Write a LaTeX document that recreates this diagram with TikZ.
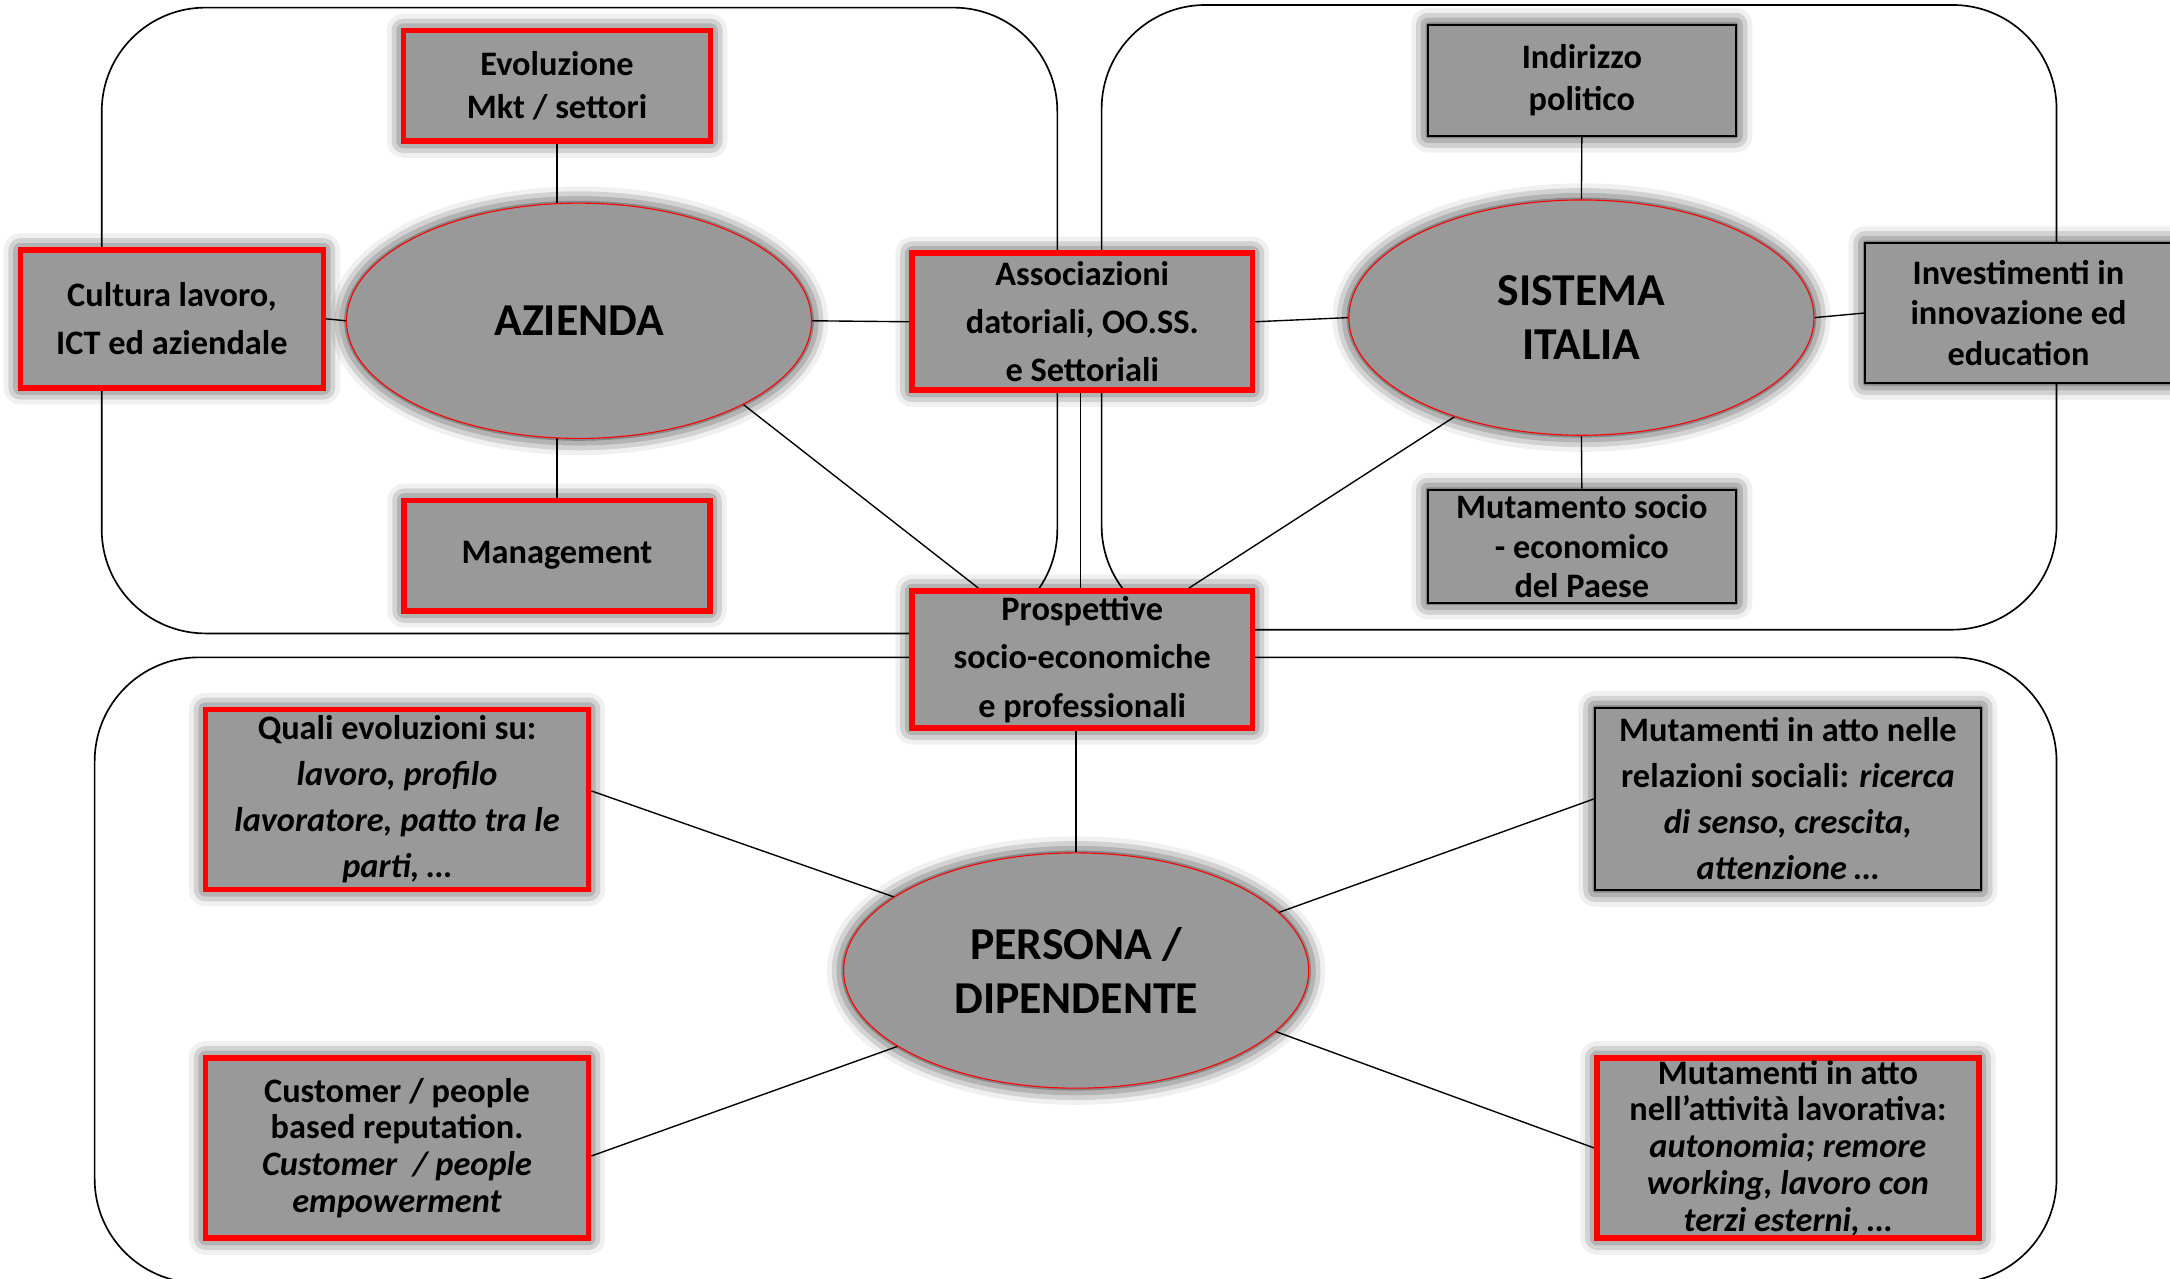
\documentclass[tikz,border=0pt]{standalone}
\usepackage{fontspec}
\setmainfont{Carlito}
\usetikzlibrary{shapes.geometric,shadows.blur}
\definecolor{boxgray}{RGB}{153,153,153}
\definecolor{boxred}{RGB}{255,0,0}
\pgfdeclarelayer{bg}
\pgfsetlayers{bg,main}
\begin{document}
\begin{tikzpicture}[x=0.5pt,y=-0.5pt,
  glow/.style={blur shadow={shadow xshift=0pt,shadow yshift=0pt,shadow blur radius=6pt,shadow opacity=95}},
  redbox/.style={rectangle,draw=boxred,line width=2pt,fill=boxgray,glow,align=center,inner sep=0pt},
  blackbox/.style={rectangle,draw=black,line width=0.8pt,fill=boxgray,glow,align=center,inner sep=0pt},
  oval/.style={ellipse,draw=boxred,line width=0.4pt,fill=boxgray,glow,align=center,inner sep=0pt,
    minimum width=168pt,minimum height=85pt,font=\bfseries\fontsize{16.5}{19.5}\selectfont},
  link/.style={draw=black,line width=0.5pt},
  grp/.style={draw=black,line width=0.6pt,rounded corners=37.5pt}
]
\useasboundingbox (0,0) rectangle (1568,924);

% top-left group
\node[redbox,minimum width=111pt,minimum height=40pt,font=\bfseries\fontsize{12.4}{15.7}\selectfont] (evo) at (402.5,62) {Evoluzione\\Mkt / settori};
\node[redbox,minimum width=109.5pt,minimum height=49.8pt,font=\bfseries\fontsize{12.4}{17.4}\selectfont] (cul) at (124.2,230.4) {Cultura lavoro,\\ICT ed aziendale};
\node[oval] (az) at (418.4,231.8) {AZIENDA};
\node[redbox,minimum width=110.5pt,minimum height=40pt,font=\bfseries\fontsize{12.4}{15}\selectfont] (man) at (402.5,401.5) {Management};
\node[redbox,minimum width=123pt,minimum height=49.5pt,font=\bfseries\fontsize{12.4}{17.4}\selectfont] (ass) at (782,232.5) {Associazioni\\datoriali, OO.SS.\\e Settoriali};
\node[redbox,minimum width=123pt,minimum height=49.5pt,font=\bfseries\fontsize{12.4}{17.5}\selectfont] (pro) at (782,476.5) {Prospettive\\socio-economiche\\e professionali};

% top-right group
\node[blackbox,minimum width=111.2pt,minimum height=40.2pt,font=\bfseries\fontsize{12.4}{15}\selectfont] (ind) at (1143,58) {Indirizzo\\politico};
\node[oval] (sis) at (1142.7,229.5) {SISTEMA\\ITALIA};
\node[blackbox,minimum width=110.7pt,minimum height=50.7pt,font=\bfseries\fontsize{12.4}{14.5}\selectfont] (inv) at (1458.5,226.2) {Investimenti in\\innovazione ed\\education};
\node[blackbox,minimum width=111.2pt,minimum height=40.9pt,font=\bfseries\fontsize{12.4}{14.2}\selectfont] (mut) at (1143,394.7) {Mutamento socio\\- economico\\del Paese};

% bottom group
\node[oval] (per) at (777.6,701.3) {PERSONA /\\DIPENDENTE};
\node[redbox,minimum width=138.4pt,minimum height=65.1pt,font=\bfseries\fontsize{12.4}{16.6}\selectfont] (qua) at (286.9,577.7) {Quali evoluzioni su:\\\textit{lavoro, profilo}\\\textit{lavoratore, patto tra le}\\\textit{parti, …}};
\node[redbox,minimum width=138.4pt,minimum height=65.2pt,font=\bfseries\fontsize{12.4}{13.3}\selectfont] (cus) at (286.9,829.5) {Customer / people\\based reputation.\\\textit{Customer\ \ / people}\\\textit{empowerment}};
\node[blackbox,minimum width=139.4pt,minimum height=65.9pt,font=\bfseries\fontsize{12.4}{16.6}\selectfont] (rel) at (1291.9,577.3) {Mutamenti in atto nelle\\relazioni sociali: \textit{ricerca}\\\textit{di senso, crescita,}\\\textit{attenzione …}};
\node[redbox,minimum width=138pt,minimum height=65.2pt,font=\bfseries\fontsize{12.4}{13.3}\selectfont] (att) at (1291.9,829.5) {Mutamenti in atto\\nell’attività lavorativa:\\\textit{autonomia; remore}\\\textit{working, lavoro con}\\\textit{terzi esterni, …}};

\begin{pgfonlayer}{bg}
\draw[grp] (73.5,5.5) rectangle (764,457.7);
\draw[grp] (796,3.6) rectangle (1486,455);
\draw[grp] (68.4,475) rectangle (1486,927);

\draw[link] (evo.south) -- (evo.south |- az.center);
\draw[link] (man.north) -- (man.north |- az.center);
\draw[link] (cul.east) -- (az.west);
\draw[link] (az.east) -- (ass.west);
\draw[link] (az.-27) -- ([xshift=25pt]pro.north west);
\draw[link] ([xshift=-0.7pt]ass.south) -- ([xshift=-0.7pt]pro.north);
\draw[link] (ass.east) -- (sis.west);
\draw[link] (sis.east) -- (inv.west);
\draw[link] (ind.south) -- (sis.north);
\draw[link] (sis.south) -- (mut.north);
\draw[link] (sis.-142) -- ([xshift=-24pt]pro.north east);
\draw[link] (per.north) -- (per.north |- pro.south);
\draw[link] ([yshift=3.1pt]qua.east) -- (per.158);
\draw[link] ([yshift=-2.9pt]cus.east) -- (per.-157);
\draw[link] (rel.west) -- (per.16.5);
\draw[link] (att.west) -- (per.-17.4);
\end{pgfonlayer}
\end{tikzpicture}
\end{document}
